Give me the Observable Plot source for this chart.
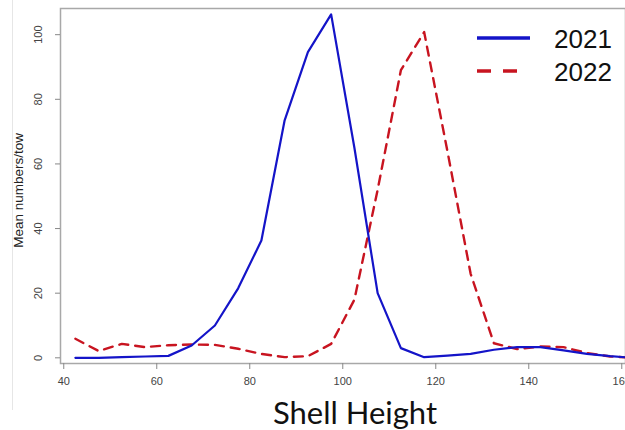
<!DOCTYPE html>
<html>
<head>
<meta charset="utf-8">
<script src="https://cdn.jsdelivr.net/npm/d3@7"></script>
<script src="https://cdn.jsdelivr.net/npm/@observablehq/plot@0.6"></script>
<style>
  html, body { margin: 0; padding: 0; background: #fff; }
  #wrap { position: relative; width: 625px; height: 430px; overflow: hidden; background: #fff; }
  #edge { position: absolute; left: 12px; top: 0; width: 0; height: 410px; border-left: 1px solid #e6e6e6; }
  #legend { position: absolute; left: 470px; top: 18px; font-family: "Liberation Sans", Arial, sans-serif; }
  #caption { position: absolute; left: 235px; width: 240px; top: 393px; text-align: center;
             font-family: Lato, "Open Sans", sans-serif; font-size: 31px; color: #111; }
</style>
</head>
<body>
<div id="wrap">
  <div id="edge"></div>
  <div id="chart"></div>
  <svg id="legend" width="155" height="75"></svg>
  <div id="caption">Shell Height</div>
</div>
<script>
// Shell height bins (mm, midpoints)
const shellHeight = [42.5, 47.5, 52.5, 57.5, 62.5, 67.5, 72.5, 77.5, 82.5, 87.5, 92.5, 97.5, 102.5,
  107.5, 112.5, 117.5, 122.5, 127.5, 132.5, 137.5, 142.5, 147.5, 152.5, 157.5, 162.5];
// Mean numbers per tow
const mean2021 = [0, 0, 0.2, 0.4, 0.6, 3.8, 10, 21.5, 36.3, 73.5, 94.6, 106.3, 65,
  20, 3, 0.2, 0.7, 1.2, 2.5, 3.3, 3.3, 2.3, 1.2, 0.5, 0];
const mean2022 = [5.9, 2.1, 4.3, 3.3, 3.9, 4.1, 4, 2.8, 1.2, 0.2, 0.5, 4.3, 18,
  52, 89, 100.8, 64, 26, 4.5, 2.7, 3.5, 3.3, 1.5, 0.4, 0];
const years = ["2021", "2022"];
const xTicks = [40, 60, 80, 100, 120, 140, 160];
const yTicks = [0, 20, 40, 60, 80, 100];
const yTitle = "Mean numbers/tow";

const blue = "#1414c8";
const red = "#c81420";

const d21 = shellHeight.map((s, i) => ({s, v: mean2021[i]}));
const d22 = shellHeight.map((s, i) => ({s, v: mean2022[i]}));

const chart = Plot.plot({
  width: 625,
  height: 395,
  marginLeft: 60,
  marginRight: 0,
  marginTop: 8,
  marginBottom: 32,
  style: {fontFamily: "'Liberation Sans', Arial, sans-serif", fontSize: "11px", background: "transparent"},
  x: {domain: [39.3, 160.8]},
  y: {domain: [-1.76, 108.1]},
  marks: [
    Plot.frame({stroke: "#a8a8a8", strokeWidth: 1.5}),
    Plot.axisX({ticks: xTicks, tickSize: 6, tickPadding: 8, stroke: "#888", fill: "#444", label: null, fontSize: 11}),
    Plot.axisY({ticks: yTicks, tickSize: 5, stroke: "#888", tickFormat: () => "", label: null}),
    Plot.text(yTicks, {y: d => d, text: d => String(d), frameAnchor: "left", dx: -22, rotate: -90,
      textAnchor: "middle", fill: "#444", fontSize: 11}),
    Plot.text([yTitle], {y: [51.8], text: d => d, frameAnchor: "left", dx: -42, rotate: -90,
      textAnchor: "middle", fill: "#222", fontSize: 13.5}),
    Plot.line(d22, {x: "s", y: "v", stroke: red, strokeWidth: 2.4, strokeDasharray: "9 7", clip: true}),
    Plot.line(d21, {x: "s", y: "v", stroke: blue, strokeWidth: 2.2, clip: true})
  ]
});
document.getElementById("chart").appendChild(chart);

// Legend
const lg = d3.select("#legend");
const styles = [{stroke: blue, dash: null, x2: 60}, {stroke: red, dash: "14 12", x2: 47}];
years.forEach((yr, i) => {
  const cy = 20 + i * 33;
  lg.append("line").attr("x1", 7).attr("x2", styles[i].x2).attr("y1", cy).attr("y2", cy)
    .attr("stroke", styles[i].stroke).attr("stroke-width", 3.5)
    .attr("stroke-dasharray", styles[i].dash);
  lg.append("text").attr("x", 84).attr("y", cy + 10).text(yr)
    .attr("font-size", 26).attr("fill", "#111");
});
</script>
</body>
</html>
